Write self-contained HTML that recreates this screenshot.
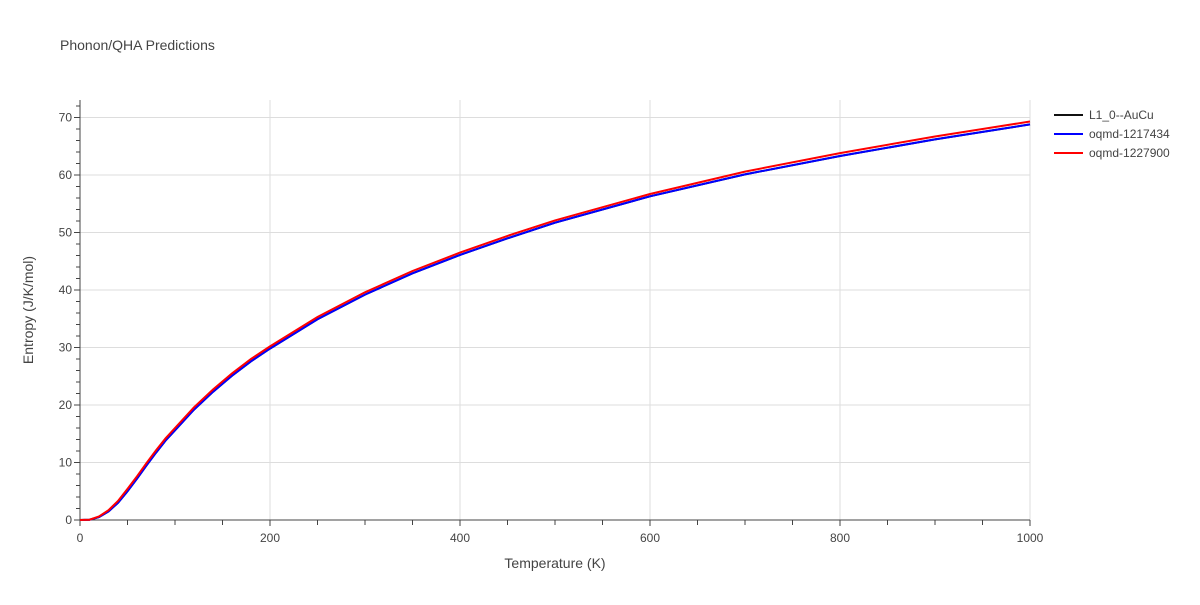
<!DOCTYPE html>
<html><head><meta charset="utf-8"><style>
body{margin:0;background:#fff;font-family:"Liberation Sans",sans-serif;}
svg text{font-family:"Liberation Sans",sans-serif;fill:#444;}
</style></head><body>
<svg id="chart" width="1200" height="600">
<text x="60" y="50" font-size="14">Phonon/QHA Predictions</text>
<g id="grid"></g><g id="axes"></g><g id="series"></g><g id="legend"></g>
</svg>
<script>
const temps=[0,10,20,30,40,50,60,70,80,90,100,120,140,160,180,200,250,300,350,400,450,500,600,700,800,900,1000];
const blueVals=[0,0.05,0.5,1.5,3.0,5.0,7.2,9.5,11.7,13.8,15.6,19.2,22.3,25.1,27.6,29.8,34.9,39.2,42.9,46.1,49.0,51.7,56.3,60.1,63.3,66.2,68.8];
const redVals=[0,0.06,0.6,1.7,3.3,5.4,7.6,9.9,12.1,14.2,16.0,19.6,22.7,25.5,28.0,30.2,35.3,39.6,43.3,46.5,49.4,52.1,56.7,60.6,63.8,66.7,69.3];
const blackVals=blueVals.slice();
const xTicks=[0,200,400,600,800,1000];
const yTicks=[0,10,20,30,40,50,60,70];
const NS="http://www.w3.org/2000/svg";
const X0=80,X1=1030,Y0=520,Y70=117.5;
const xs=v=>X0+(X1-X0)*v/1000;
const ys=v=>Y0-(Y0-Y70)*v/70;
function mk(t,a,p){const e=document.createElementNS(NS,t);for(const k in a)e.setAttribute(k,a[k]);p.appendChild(e);return e;}
const grid=document.getElementById('grid'),axes=document.getElementById('axes'),ser=document.getElementById('series'),leg=document.getElementById('legend');
xTicks.forEach(v=>{if(v>0){const l=mk('line',{x1:xs(v),x2:xs(v),y1:100,y2:Y0,stroke:'#ddd'},grid);}
 const t=mk('text',{x:xs(v),y:Y0+22,'font-size':12,'text-anchor':'middle'},axes);t.textContent=v;});
yTicks.forEach(v=>{if(v>0){const l=mk('line',{x1:X0,x2:X1,y1:ys(v),y2:ys(v),stroke:'#ddd'},grid);}
 const t=mk('text',{x:X0-8,y:ys(v)+4,'font-size':12,'text-anchor':'end'},axes);t.textContent=v;});
for(let v=0;v<=1000;v+=50){const l=mk('line',{x1:xs(v),x2:xs(v),y1:Y0,y2:Y0+(v%200==0?6:5),stroke:'#444'},axes);}
for(let v=0;v<=72;v+=2){const l=mk('line',{x1:X0,x2:X0-(v%10==0?6:4),y1:ys(v),y2:ys(v),stroke:'#444'},axes);}
let a=mk('line',{x1:X0,x2:X1,y1:Y0,y2:Y0,stroke:'#444'},axes);
a=mk('line',{x1:X0,x2:X0,y1:100,y2:Y0,stroke:'#444'},axes);
let t=mk('text',{x:555,y:568,'font-size':14,'text-anchor':'middle'},axes);t.textContent='Temperature (K)';
t=mk('text',{x:33,y:310,'font-size':14,'text-anchor':'middle',transform:'rotate(-90 33 310)'},axes);t.textContent='Entropy (J/K/mol)';
[[blackVals,'#111','series-l10-aucu'],[blueVals,'#0000ff','series-oqmd-1217434'],[redVals,'#ff0000','series-oqmd-1227900']].forEach(([vals,c,n])=>{
 const p=mk('path',{d:vals.map((v,i)=>(i?'L':'M')+xs(temps[i]).toFixed(1)+','+ys(v).toFixed(1)).join(''),fill:'none',stroke:c,'stroke-width':2},ser);
 });
[['L1_0--AuCu','#111'],['oqmd-1217434','#0000ff'],['oqmd-1227900','#ff0000']].forEach(([lab,c],i)=>{
 const y=115+i*19;
 const g=mk('g',{},leg);
 mk('line',{x1:1054,x2:1083,y1:y,y2:y,stroke:c,'stroke-width':2},g);
 const tt=mk('text',{x:1089,y:y+4,'font-size':12},g);tt.textContent=lab;});
</script>
</body></html>
